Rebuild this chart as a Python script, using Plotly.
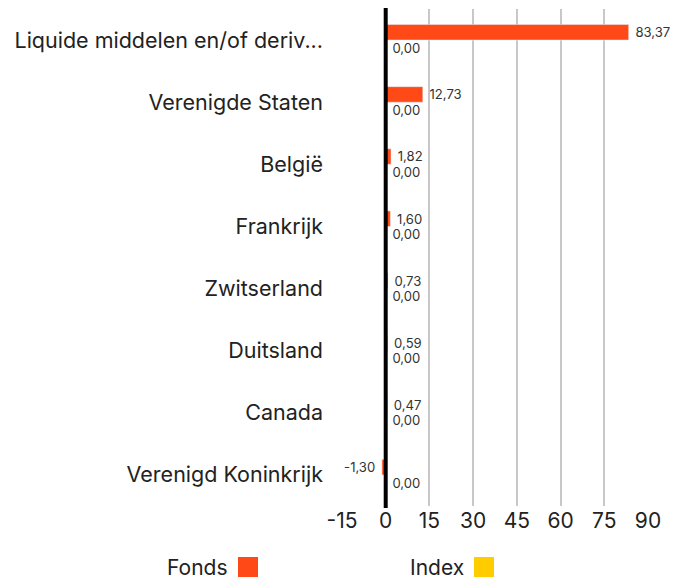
import plotly.graph_objects as go

categories = ["Liquide middelen en/of deriv...", "Verenigde Staten", "België", "Frankrijk",
              "Zwitserland", "Duitsland", "Canada", "Verenigd Koninkrijk"]
fonds = [83.37, 12.73, 1.82, 1.60, 0.73, 0.59, 0.47, -1.30]
index_vals = [0.00, 0.00, 0.00, 0.00, 0.00, 0.00, 0.00, 0.00]
x_ticks = [-15, 0, 15, 30, 45, 60, 75, 90]

FONDS_COLOR = "#FF4A17"
INDEX_COLOR = "#FFCC00"
FONT = "Inter"
NB = "\u00a0"

def fmt(v):
    s = f"{v:.2f}".replace(".", ",")
    return s + NB if v < 0 else NB + s

W, H = 677, 573
L, R, T, B = 334, 37, 1, 75
PW, PH = W - L - R, H - T - B

def px(x):
    return (x - L) / PW

def py(y):
    return (H - B - y) / PH

fig = go.Figure()
fig.add_trace(go.Bar(
    name="Fonds", y=categories, x=fonds, orientation="h",
    marker_color=FONDS_COLOR, text=[fmt(v) for v in fonds],
    textposition="outside", textfont=dict(size=13.5, color="#333333", family=FONT),
    cliponaxis=False, showlegend=False,
))
fig.add_trace(go.Bar(
    name="Index", y=categories, x=index_vals, orientation="h",
    marker_color=INDEX_COLOR, text=[fmt(v) for v in index_vals],
    textposition="outside", textfont=dict(size=13.5, color="#333333", family=FONT),
    cliponaxis=False, showlegend=False,
))

fig.update_layout(
    width=W, height=H,
    margin=dict(l=L, r=R, t=T, b=B, autoexpand=False),
    barmode="group", bargap=0.5, bargroupgap=0.0,
    plot_bgcolor="white", paper_bgcolor="white",
    font=dict(family=FONT, color="#222222"),
    showlegend=False,
)
fig.update_xaxes(
    range=[-15, 90], tickvals=x_ticks, ticktext=[str(t) for t in x_ticks],
    showgrid=True, gridcolor="#C8C8C8", gridwidth=2,
    zeroline=False,
    tickfont=dict(size=21, color="#222222"), showline=False, ticks="",
)
fig.update_yaxes(
    autorange="reversed", showgrid=False, zeroline=False, ticks="",
    tickfont=dict(size=21.5, color="#222222"), ticklabelstandoff=18,
)

# zero line drawn above the bars
fig.add_shape(type="line", xref="x", yref="paper", x0=0, x1=0, y0=-0.004, y1=1.004,
              line=dict(color="black", width=4), layer="above")

# Legend drawn manually (text followed by colour swatch)
fig.add_annotation(xref="paper", yref="paper", x=px(222), y=py(559),
                   text="Fonds", showarrow=False, xanchor="right", yanchor="middle",
                   font=dict(size=21, color="#222222", family=FONT))
fig.add_shape(type="rect", xref="paper", yref="paper",
              x0=px(230), x1=px(250), y0=py(569), y1=py(549),
              fillcolor=FONDS_COLOR, line_width=0)
fig.add_annotation(xref="paper", yref="paper", x=px(458), y=py(559),
                   text="Index", showarrow=False, xanchor="right", yanchor="middle",
                   font=dict(size=21, color="#222222", family=FONT))
fig.add_shape(type="rect", xref="paper", yref="paper",
              x0=px(466), x1=px(486), y0=py(569), y1=py(549),
              fillcolor=INDEX_COLOR, line_width=0)

fig.write_html("out.html")
